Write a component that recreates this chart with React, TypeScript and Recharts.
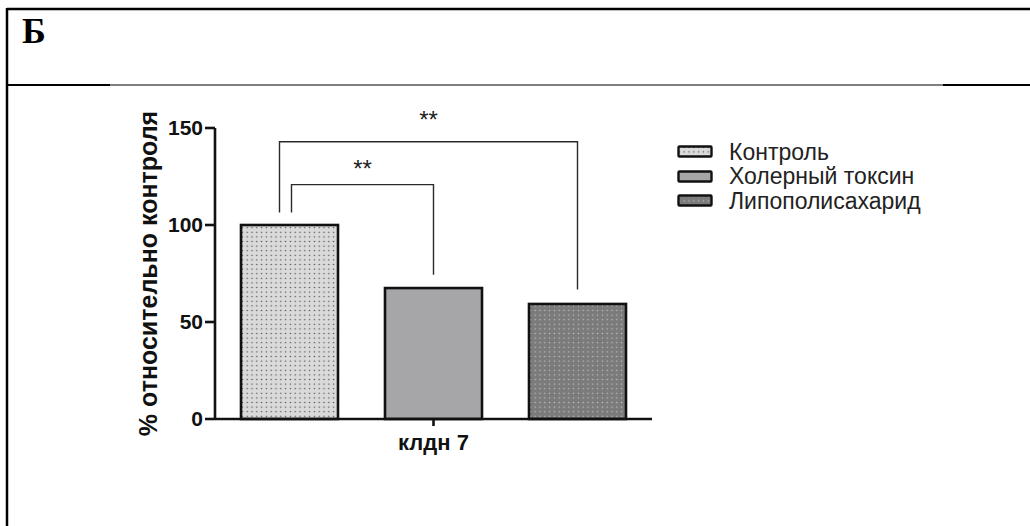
import React from 'react'
import { BarChart, Bar, XAxis, YAxis, Legend } from 'recharts'

const categories = ['клдн 7']
const seriesNames = ['Контроль', 'Холерный токсин', 'Липополисахарид']
const controlValues = [100]
const choleraValues = [67.5]
const lpsValues = [59.3]
const yTicks = [0, 50, 100, 150]

// significance brackets, levels in data units; span = how many bars back the left leg goes
const brackets: Record<string, { span: number; level: number; leftEnd: number; rightEnd: number; starLevel: number; text: string; leftShift: number }> = {
  cholera: { span: 1, level: 120.8, leftEnd: 106.4, rightEnd: 74.4, starLevel: 124.5, text: '**', leftShift: 2 },
  lps: { span: 2, level: 142.9, leftEnd: 106.4, rightEnd: 66.7, starLevel: 150.2, text: '**', leftShift: -10 },
}

const data = categories.map((name, i) => ({
  name,
  control: controlValues[i],
  cholera: choleraValues[i],
  lps: lpsValues[i],
}))

const FONT = '"Liberation Sans", Arial, Helvetica, sans-serif'
const BAR_SIZE = 97
const BAR_GAP = 47

const fills: Record<string, string> = {
  control: 'url(#barDotsLight)',
  cholera: '#a6a6a8',
  lps: 'url(#barDotsDark)',
}
const legendFills = ['url(#lgDotsLight)', '#a6a6a8', 'url(#lgDotsDark)']

function PatternDefs({ prefix }: { prefix: string }) {
  return (
    <defs>
      <pattern id={prefix + 'DotsLight'} width={4.8} height={4.6} patternUnits="userSpaceOnUse">
        <rect width={4.8} height={4.6} fill="#dadada" />
        <circle cx={2.4} cy={2.3} r={0.75} fill="#4a4a4a" />
      </pattern>
      <pattern id={prefix + 'DotsDark'} width={4.8} height={4.6} patternUnits="userSpaceOnUse">
        <rect width={4.8} height={4.6} fill="#7b7b7b" />
        <circle cx={2.4} cy={2.3} r={0.75} fill="#c4c4c4" />
      </pattern>
    </defs>
  )
}

const makeShape = (key: string) => (props: any) => {
  const { x, y, width, height, payload } = props
  const value = typeof props.value === 'number' ? props.value : payload[key]
  const b = brackets[key]
  let bracket = null
  if (b && value) {
    const k = height / value
    const base = y + height
    const py = (v: number) => base - v * k
    const rx = x + width / 2
    const lx = rx - b.span * (width + BAR_GAP) + b.leftShift
    bracket = (
      <g>
        <polyline
          points={`${lx},${py(b.leftEnd)} ${lx},${py(b.level)} ${rx},${py(b.level)} ${rx},${py(b.rightEnd)}`}
          fill="none"
          stroke="#2a2a2a"
          strokeWidth={1.4}
        />
        <text x={(lx + rx) / 2} y={py(b.starLevel)} textAnchor="middle" fontSize={24} fontFamily={FONT} fill="#222">
          {b.text}
        </text>
      </g>
    )
  }
  return (
    <g>
      <rect x={x} y={y} width={width} height={height} fill={fills[key]} stroke="#111" strokeWidth={2.6} />
      {bracket}
    </g>
  )
}

function LegendContent() {
  return (
    <div style={{ fontFamily: FONT, fontSize: 23, color: '#222' }}>
      {seriesNames.map((name, i) => (
        <div key={name} style={{ display: 'flex', alignItems: 'center', height: 24.5 }}>
          <svg width={38} height={14} style={{ marginRight: 14 }}>
            <rect x={1.5} y={1.5} width={33} height={10} fill={legendFills[i]} stroke="#111" strokeWidth={2.4} rx={1} />
          </svg>
          <span>{name}</span>
        </div>
      ))}
    </div>
  )
}

export default function App() {
  return (
    <div style={{ position: 'absolute', left: 0, top: 0, width: 1030, height: 526, background: '#fff', overflow: 'hidden' }}>
      <svg width={1030} height={526} style={{ position: 'absolute', left: 0, top: 0 }}>
        <PatternDefs prefix="bar" />
        <PatternDefs prefix="lg" />
        <line x1={7} y1={9} x2={1030} y2={9} stroke="#000" strokeWidth={2.5} />
        <line x1={7} y1={8} x2={7} y2={526} stroke="#000" strokeWidth={2.5} />
        <line x1={7} y1={85} x2={110} y2={85} stroke="#000" strokeWidth={2.2} />
        <line x1={110} y1={85} x2={943} y2={85} stroke="#000" strokeWidth={1} />
        <line x1={943} y1={85} x2={1030} y2={85} stroke="#000" strokeWidth={2.2} />
        <text x={22} y={43} fontFamily='"Liberation Serif", "Times New Roman", serif' fontWeight="bold" fontSize={36}>
          Б
        </text>
      </svg>
      <div style={{ position: 'absolute', left: 0, top: 0 }}>
        <BarChart width={1030} height={526} data={data} margin={{ top: 128, right: 378, bottom: 67, left: 81 }} barSize={BAR_SIZE} barGap={BAR_GAP}>
          <XAxis
            dataKey="name"
            height={40}
            axisLine={{ stroke: '#111', strokeWidth: 2.6 }}
            tickLine={{ stroke: '#111', strokeWidth: 2.6 }}
            tickSize={7}
            tickMargin={8}
            tick={{ fill: '#111', fontSize: 22, fontWeight: 'bold', fontFamily: FONT }}
          />
          <YAxis
            width={134}
            domain={[0, 150]}
            ticks={yTicks}
            interval={0}
            axisLine={{ stroke: '#111', strokeWidth: 2.6 }}
            tickLine={{ stroke: '#111', strokeWidth: 2.6 }}
            tickSize={10}
            tickMargin={2}
            tick={{ fill: '#111', fontSize: 21, fontWeight: 'bold', fontFamily: FONT }}
            label={{ value: '% относительно контроля', angle: -90, position: 'center', fill: '#111', fontSize: 25, fontWeight: 'bold', fontFamily: FONT }}
          />
          <Legend
            layout="vertical"
            align="center"
            verticalAlign="middle"
            wrapperStyle={{ left: 677, top: 140, width: 300 }}
            content={() => <LegendContent />}
          />
          <Bar dataKey="control" name={seriesNames[0]} fill="#dadada" shape={makeShape('control')} isAnimationActive={false} />
          <Bar dataKey="cholera" name={seriesNames[1]} fill="#a6a6a8" shape={makeShape('cholera')} isAnimationActive={false} />
          <Bar dataKey="lps" name={seriesNames[2]} fill="#7b7b7b" shape={makeShape('lps')} isAnimationActive={false} />
        </BarChart>
      </div>
    </div>
  )
}
